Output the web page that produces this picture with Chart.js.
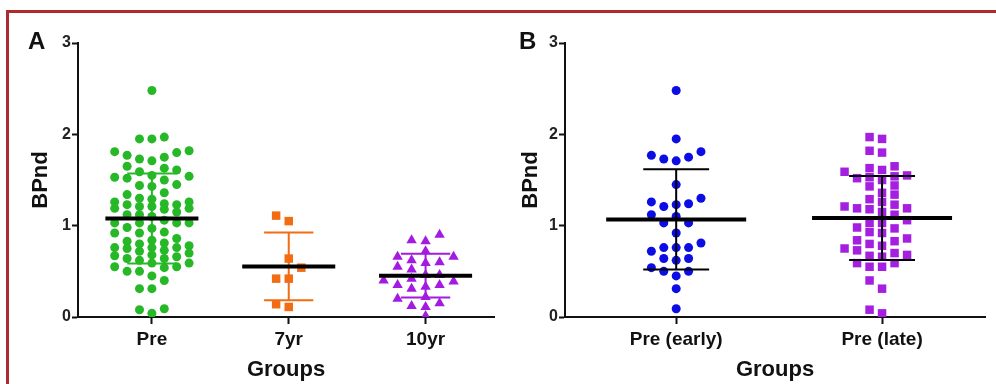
<!DOCTYPE html>
<html>
<head>
<meta charset="utf-8">
<script src="https://cdn.jsdelivr.net/npm/chart.js@4.4.1/dist/chart.umd.min.js"></script>
<style>
html,body{margin:0;padding:0;background:#fff;width:996px;height:384px;overflow:hidden;}
#frame{position:absolute;left:6px;top:10px;width:1100px;height:500px;border-top:3px solid #ad2a2e;border-left:3px solid #ad2a2e;box-sizing:border-box;}
.panel{position:absolute;top:0;height:384px;}
.lbl{position:absolute;font:bold 24px "Liberation Sans",Arial,sans-serif;line-height:24px;color:#111;}
canvas{display:block;}
</style>
</head>
<body>
<div id="frame"></div>
<div class="panel" style="left:0;width:500px"><canvas id="cA" width="500" height="384"></canvas></div>
<div class="panel" style="left:500px;width:496px"><canvas id="cB" width="496" height="384"></canvas></div>
<div class="lbl" style="left:28px;top:29px">A</div>
<div class="lbl" style="left:519px;top:29px">B</div>
<script>
// ---------------- DATA ----------------
const groupsA = ['Pre', '7yr', '10yr'];
const groupsB = ['Pre (early)', 'Pre (late)'];
const yTicks = [0, 1, 2, 3];
const xTitle = 'Groups';
const yTitle = 'BPnd';

const preEarly = [2.48, 1.95, 1.81, 1.77, 1.75, 1.73, 1.71, 1.45, 1.30, 1.26, 1.24, 1.23, 1.21, 1.12, 1.10,
  1.03, 1.03, 0.92, 0.81, 0.76, 0.76, 0.76, 0.72, 0.64, 0.64, 0.62, 0.54, 0.50, 0.50, 0.45, 0.31, 0.09];
const preLate = [1.97, 1.95, 1.82, 1.80, 1.65, 1.63, 1.61, 1.59, 1.55, 1.54, 1.53, 1.52, 1.50, 1.44, 1.43,
  1.36, 1.34, 1.29, 1.26, 1.23, 1.21, 1.19, 1.19, 1.18, 1.15, 1.12, 1.06, 1.03, 1.03, 0.98, 0.97, 0.93, 0.92,
  0.86, 0.84, 0.83, 0.80, 0.78, 0.75, 0.73, 0.70, 0.68, 0.67, 0.66, 0.59, 0.59, 0.55, 0.55, 0.40, 0.31, 0.08, 0.04];
const pre = preEarly.concat(preLate);
const yr7 = [1.11, 1.05, 0.64, 0.54, 0.42, 0.42, 0.14, 0.11];
const yr10 = [0.90, 0.84, 0.83, 0.72, 0.66, 0.66, 0.62, 0.60, 0.59, 0.55, 0.52, 0.46, 0.46, 0.42, 0.40,
  0.39, 0.35, 0.35, 0.33, 0.31, 0.22, 0.20, 0.15, 0.12, 0.11, 0.01];

// ---------------- HELPERS ----------------
const FONT = '"Liberation Sans", Arial, sans-serif';
function mean(a){ return a.reduce((s,v)=>s+v,0)/a.length; }
function sd(a){ const m=mean(a); return Math.sqrt(a.reduce((s,v)=>s+(v-m)*(v-m),0)/(a.length-1)); }
function meanSegs(list, half){
  const d=[];
  list.forEach((g,i)=>{ const m=mean(g); d.push({x:i-half,y:m},{x:i+half,y:m},{x:i,y:null}); });
  return d;
}
function sdSegs(g, i, cap){
  const m=mean(g), s=sd(g);
  return [{x:i,y:m-s},{x:i,y:m+s},{x:i,y:null},
          {x:i-cap,y:m+s},{x:i+cap,y:m+s},{x:i,y:null},
          {x:i-cap,y:m-s},{x:i+cap,y:m-s}];
}

function makePanel(canvasId, cats, series, o){
  const datasets = [];
  const swarm = [];
  datasets.push({type:'line', data:meanSegs(series.map(s=>s.values), 0.34), borderColor:'#000',
    borderWidth:4, pointRadius:0, spanGaps:false, tension:0, fill:false, order:0, borderCapStyle:'butt'});
  series.forEach((s,i)=>{
    datasets.push({type:'line', data:sdSegs(s.values, i, o.cap), borderColor:s.bar, borderWidth:2,
      pointRadius:0, spanGaps:false, tension:0, fill:false, order:1, borderCapStyle:'butt'});
    swarm.push({idx:datasets.length, values:s.values, center:i, colW:s.colW, rowH:s.rowH, maxSlot:s.maxSlot||9});
    datasets.push({type:'scatter', data:s.values.map(v=>({x:i,y:v})), pointStyle:s.style,
      pointRadius:s.r, backgroundColor:s.color, borderWidth:0, order:2});
  });
  const axisGrid = {drawOnChartArea:false, drawTicks:true, tickWidth:2, tickColor:'#111'};
  const chart = new Chart(document.getElementById(canvasId), {
    type:'scatter',
    data:{datasets},
    options:{
      responsive:false, animation:false, events:[],
      layout:{padding:{left:0, right:o.padRight, top:43, bottom:0}},
      plugins:{legend:{display:false}, tooltip:{enabled:false}},
      scales:{
        x:{type:'linear', min:o.xMin, max:o.xMax,
          afterBuildTicks:(sc)=>{ sc.ticks = cats.map((c,i)=>({value:i})); },
          afterFit:(sc)=>{ sc.height = 67; },
          ticks:{callback:(v)=>cats[v], font:{family:FONT,size:19,weight:'bold'}, color:'#111',
            padding:4, maxRotation:0, autoSkip:false},
          grid:Object.assign({tickLength:7}, axisGrid),
          border:{display:true, color:'#111', width:2},
          title:{display:true, text:xTitle, font:{family:FONT,size:22,weight:'bold'}, color:'#111',
            padding:{top:0,bottom:1}}
        },
        y:{type:'linear', min:0, max:3,
          afterBuildTicks:(sc)=>{ sc.ticks = yTicks.map(v=>({value:v})); },
          afterFit:(sc)=>{ sc.width = o.yWidth; },
          ticks:{callback:(v)=>String(v), font:{family:FONT,size:16,weight:'bold'}, color:'#222', padding:1},
          grid:Object.assign({tickLength:6}, axisGrid),
          border:{display:true, color:'#111', width:2},
          title:{display:true, text:yTitle, font:{family:FONT,size:22,weight:'bold'}, color:'#111',
            padding:{top:o.yTitlePad,bottom:0}}
        }
      }
    }
  });
  // beeswarm placement (column-slot scatter) computed from the values through the chart's scales
  const xs = chart.scales.x, ys = chart.scales.y;
  swarm.forEach(sw=>{
    const vals = sw.values, cpx = xs.getPixelForValue(sw.center);
    const ord = vals.map((v,i)=>i).sort((a,b)=>vals[a]-vals[b]);
    const placed = [], out = new Array(vals.length);
    const slots = [0];
    for(let k=1;k<=sw.maxSlot;k++){ slots.push(-k, k); }
    ord.forEach(i=>{
      const py = ys.getPixelForValue(vals[i]);
      let best = null, bestGap = -1;
      for(const s of slots){
        const px = cpx + s*sw.colW;
        let gap = Infinity;
        placed.forEach(p=>{ if(Math.abs(p.x-px) < sw.colW*0.9) gap = Math.min(gap, Math.abs(p.y-py)); });
        if(gap >= sw.rowH){ best = px; break; }
        if(gap > bestGap + 0.5){ bestGap = gap; best = px; }
      }
      placed.push({x:best,y:py});
      out[i] = {x:xs.getValueForPixel(best), y:vals[i]};
    });
    chart.data.datasets[sw.idx].data = out;
  });
  chart.update('none');
  return chart;
}

const GREEN='#26b826', ORANGE='#f26c14', PURPLE='#a31be0', BLUE='#0c0ce4', PURPLE2='#a41fdf';

makePanel('cA', groupsA, [
  {values:pre,  color:GREEN,  bar:GREEN,  style:'circle',   r:4.5, colW:12.4, rowH:10.5, maxSlot:3},
  {values:yr7,  color:ORANGE, bar:ORANGE, style:'rect',     r:6,   colW:12.6, rowH:12},
  {values:yr10, color:PURPLE, bar:PURPLE, style:'triangle', r:6,   colW:14,   rowH:9}
], {xMin:-0.54, xMax:2.5, padRight:2, yWidth:78, yTitlePad:28, cap:0.18});

makePanel('cB', groupsB, [
  {values:preEarly, color:BLUE,    bar:'#000', style:'circle', r:4.5, colW:12.4, rowH:10.5},
  {values:preLate,  color:PURPLE2, bar:'#000', style:'rect',   r:6,   colW:12.5, rowH:9, maxSlot:3}
], {xMin:-0.54, xMax:1.5, padRight:11, yWidth:65, yTitlePad:18, cap:0.16});
</script>
</body>
</html>
